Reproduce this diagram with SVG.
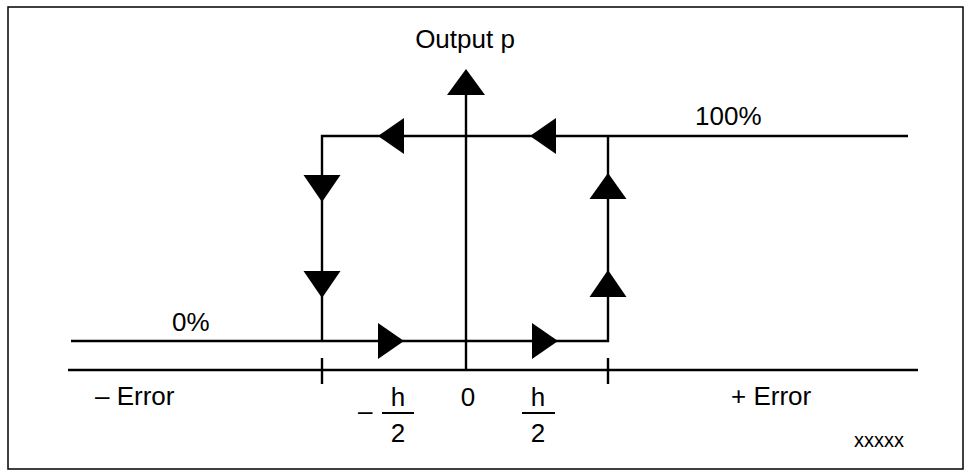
<svg xmlns="http://www.w3.org/2000/svg" width="972" height="476" viewBox="0 0 972 476">
<style>
.ln{stroke:#000;stroke-width:2.4;fill:none;stroke-linecap:butt}
.ar{fill:#000;stroke:none}
.t{font-family:"Liberation Sans",Arial,sans-serif;font-size:26px;fill:#000}
.s{font-family:"Liberation Sans",Arial,sans-serif;font-size:20px;fill:#000}
</style>
<rect x="8" y="7" width="955" height="462" fill="#fff" stroke="#000" stroke-width="1.5"/>
<g id="connectors">
  <line class="ln" x1="466" y1="90" x2="466" y2="370"/>
  <polygon class="ar" points="466,69 447,95 485,95"/>
  <line class="ln" x1="68" y1="370" x2="918" y2="370"/>
  <line class="ln" x1="322" y1="358" x2="322" y2="384"/>
  <line class="ln" x1="608" y1="358" x2="608" y2="384"/>
  <polyline class="ln" points="908,136 322,136 322,341"/>
  <polyline class="ln" points="71,341 608,341 608,136"/>
  <polygon class="ar" points="378,136 404,118 404,154"/>
  <polygon class="ar" points="530,136 556,118 556,154"/>
  <polygon class="ar" points="322,202 303.5,175 340.5,175"/>
  <polygon class="ar" points="322,298 303.5,271 340.5,271"/>
  <polygon class="ar" points="608,173 589.5,199 626.5,199"/>
  <polygon class="ar" points="608,270 589.5,297 626.5,297"/>
  <polygon class="ar" points="404,341 378,323 378,359"/>
  <polygon class="ar" points="558,341 532,323 532,359"/>
</g>
<g id="labels">
  <text class="t" x="465" y="48" text-anchor="middle">Output p</text>
  <text class="t" x="695" y="125">100%</text>
  <text class="t" x="172" y="331">0%</text>
  <text class="t" x="95" y="405">– Error</text>
  <text class="t" x="731" y="405">+ Error</text>
  <text class="t" x="468" y="406" text-anchor="middle">0</text>
  <g id="neg-half">
    <text class="t" x="358" y="420">–</text>
    <text class="t" x="398" y="406" text-anchor="middle">h</text>
    <line x1="382" y1="413" x2="414" y2="413" stroke="#000" stroke-width="2"/>
    <text class="t" x="398" y="442" text-anchor="middle">2</text>
  </g>
  <g id="pos-half">
    <text class="t" x="538" y="406" text-anchor="middle">h</text>
    <line x1="522" y1="413" x2="555" y2="413" stroke="#000" stroke-width="2"/>
    <text class="t" x="538" y="442" text-anchor="middle">2</text>
  </g>
  <text class="s" x="854" y="447">xxxxx</text>
</g>
</svg>
